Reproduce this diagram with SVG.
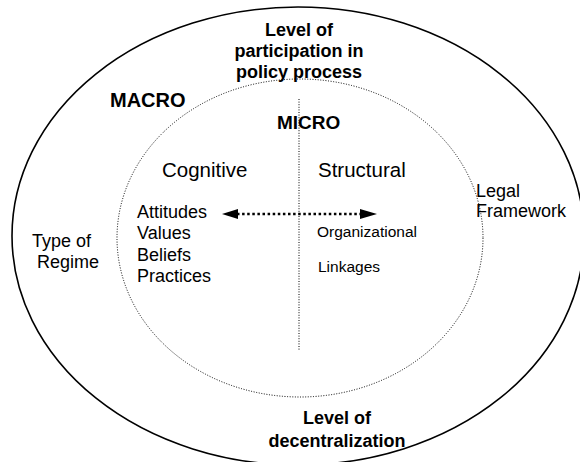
<svg xmlns="http://www.w3.org/2000/svg" width="580" height="462" viewBox="0 0 580 462">
<defs>
<style>
.b{font-family:"Liberation Sans",Arial,sans-serif;font-weight:bold;fill:#000}
.r{font-family:"Liberation Sans",Arial,sans-serif;fill:#000}
.dot{fill:none;stroke:#000;stroke-width:1;stroke-dasharray:1 1.6}
</style>
</defs>
<rect width="580" height="462" fill="#fff"/>
<g id="macro">
<ellipse cx="298" cy="236" rx="286" ry="229" fill="none" stroke="#000" stroke-width="1.6"/>
<text class="b" x="110" y="107" font-size="20">MACRO</text>
</g>
<g id="micro">
<ellipse class="dot" cx="300" cy="238" rx="183" ry="159"/>
<text class="b" x="277" y="129" font-size="19">MICRO</text>
</g>
<g id="top-label">
<text class="b" font-size="18" text-anchor="middle" x="299" y="36">Level of</text>
<text class="b" font-size="18" text-anchor="middle" x="299" y="57">participation in</text>
<text class="b" font-size="18" text-anchor="middle" x="299" y="78">policy process</text>
</g>
<g id="bottom-label">
<text class="b" font-size="18" text-anchor="middle" x="337" y="424">Level of</text>
<text class="b" font-size="18" text-anchor="middle" x="337" y="447">decentralization</text>
</g>
<g id="regime">
<text class="r" font-size="18" x="32" y="247">Type of</text>
<text class="r" font-size="18" x="37" y="268">Regime</text>
</g>
<g id="legal">
<text class="r" font-size="18" x="476" y="197">Legal</text>
<text class="r" font-size="18" x="476" y="217">Framework</text>
</g>
<g id="cognitive">
<text class="r" font-size="20.5" x="162" y="177">Cognitive</text>
<text class="r" font-size="18" x="137" y="218">Attitudes</text>
<text class="r" font-size="18" x="137" y="239">Values</text>
<text class="r" font-size="18" x="137" y="261">Beliefs</text>
<text class="r" font-size="18" x="137" y="282">Practices</text>
</g>
<g id="structural">
<text class="r" font-size="20.5" x="318" y="177">Structural</text>
<text class="r" font-size="15.5" x="317" y="237">Organizational</text>
<text class="r" font-size="15.5" x="318" y="272">Linkages</text>
</g>
<g id="connectors">
<line x1="299" y1="99" x2="299" y2="350" class="dot"/>
<line x1="237" y1="214" x2="360" y2="214" stroke="#000" stroke-width="2.5" stroke-dasharray="2.5 2.6" fill="none"/>
<path d="M222,214 L238,209 L238,219 Z" fill="#000"/>
<path d="M377,214 L360,209 L360,219 Z" fill="#000"/>
</g>
</svg>
